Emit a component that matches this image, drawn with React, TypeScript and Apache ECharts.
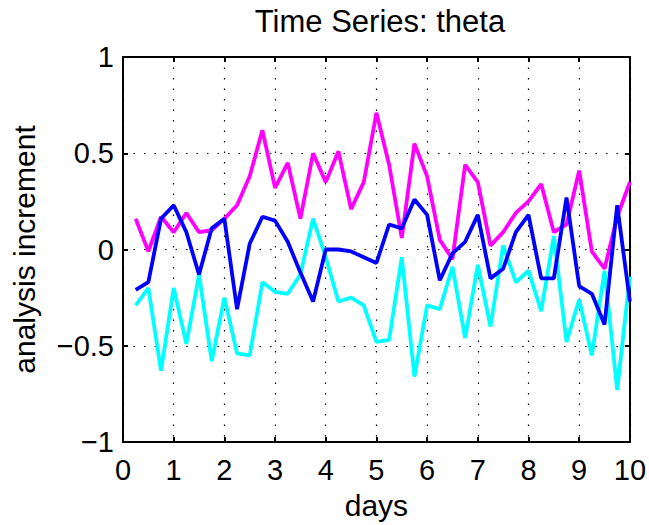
import React, { useEffect, useRef } from "react";
import * as echarts from "echarts";

const days = [
  0.25, 0.5, 0.75, 1, 1.25, 1.5, 1.75, 2, 2.25, 2.5,
  2.75, 3, 3.25, 3.5, 3.75, 4, 4.25, 4.5, 4.75, 5,
  5.25, 5.5, 5.75, 6, 6.25, 6.5, 6.75, 7, 7.25, 7.5,
  7.75, 8, 8.25, 8.5, 8.75, 9, 9.25, 9.5, 9.75, 10,
];

const magentaSeries = [
  0.16, -0.01, 0.17, 0.09, 0.19, 0.09, 0.10, 0.16, 0.23, 0.38,
  0.62, 0.32, 0.45, 0.16, 0.50, 0.35, 0.51, 0.21, 0.35, 0.71,
  0.44, 0.06, 0.55, 0.38, 0.05, -0.05, 0.44, 0.35, 0.02, 0.09,
  0.19, 0.25, 0.34, 0.09, 0.13, 0.41, -0.01, -0.10, 0.17, 0.35,
];

const cyanSeries = [
  -0.29, -0.20, -0.63, -0.20, -0.49, -0.13, -0.58, -0.25, -0.54, -0.55,
  -0.17, -0.22, -0.23, -0.13, 0.16, -0.04, -0.27, -0.25, -0.29, -0.48,
  -0.47, -0.04, -0.66, -0.29, -0.31, -0.09, -0.46, -0.08, -0.40, 0.02,
  -0.17, -0.11, -0.32, 0.07, -0.48, -0.26, -0.55, -0.11, -0.73, -0.14,
];

const blueSeries = [
  -0.21, -0.17, 0.16, 0.23, 0.09, -0.13, 0.11, 0.16, -0.31, 0.03,
  0.17, 0.15, 0.04, -0.12, -0.27, 0.0, 0.0, -0.01, -0.04, -0.07,
  0.13, 0.11, 0.26, 0.18, -0.16, -0.02, 0.04, 0.18, -0.15, -0.10,
  0.09, 0.18, -0.15, -0.15, 0.27, -0.19, -0.23, -0.39, 0.23, -0.27,
];

const xTicks = [0, 1, 2, 3, 4, 5, 6, 7, 8, 9, 10];
const yTickLabels: Record<string, string> = {
  "-1": "\u22121",
  "-0.5": "\u22120.5",
  "0": "0",
  "0.5": "0.5",
  "1": "1",
};

const FONT = "'Liberation Sans', Arial, Helvetica, sans-serif";
const FS = 29;

export default function App() {
  const ref = useRef<HTMLDivElement>(null);

  useEffect(() => {
    if (!ref.current) return;
    const chart = echarts.init(ref.current, null, { renderer: "svg" });
    const pair = (ys: number[]) => days.map((d, i) => [d, ys[i]]);
    const dotted = { color: "#000", type: [1.5, 9] as any, width: 1.2 };
    const axisLine = { show: true, onZero: false, lineStyle: { color: "#000", width: 2 } };
    const tick = { show: true, inside: true, length: 5, lineStyle: { color: "#000", width: 2 } };

    chart.setOption({
      animation: false,
      backgroundColor: "#fff",
      textStyle: { fontFamily: FONT },
      grid: { left: 123, right: 17, top: 57, bottom: 79, containLabel: false },
      graphic: [
        {
          type: "text",
          x: 380,
          y: 21,
          style: {
            text: "Time Series: theta",
            font: `31px ${FONT}`,
            fill: "#000",
            textAlign: "center",
            textVerticalAlign: "middle",
          },
        },
      ],
      xAxis: [
        {
          type: "value",
          min: xTicks[0],
          max: xTicks[xTicks.length - 1],
          interval: 1,
          position: "bottom",
          name: "days",
          nameLocation: "middle",
          nameGap: 48,
          nameTextStyle: { fontSize: 30, color: "#000", fontFamily: FONT },
          axisLine,
          axisTick: tick,
          axisLabel: { color: "#000", fontSize: FS, margin: 13, fontFamily: FONT },
          splitLine: { show: true, lineStyle: dotted },
        },
        {
          type: "value",
          min: xTicks[0],
          max: xTicks[xTicks.length - 1],
          interval: 1,
          position: "top",
          axisLine,
          axisTick: tick,
          axisLabel: { show: false },
          splitLine: { show: false },
        },
      ],
      yAxis: [
        {
          type: "value",
          min: -1,
          max: 1,
          interval: 0.5,
          position: "left",
          name: "analysis increment",
          nameLocation: "middle",
          nameGap: 84,
          nameTextStyle: { fontSize: 30, color: "#000", fontFamily: FONT },
          axisLine,
          axisTick: tick,
          axisLabel: {
            color: "#000",
            fontSize: FS,
            margin: 9,
            fontFamily: FONT,
            formatter: (v: number) => yTickLabels[String(v)] ?? String(v),
          },
          splitLine: { show: true, lineStyle: dotted },
        },
        {
          type: "value",
          min: -1,
          max: 1,
          interval: 0.5,
          position: "right",
          axisLine,
          axisTick: tick,
          axisLabel: { show: false },
          splitLine: { show: false },
        },
      ],
      series: [
        {
          type: "line",
          data: pair(magentaSeries),
          showSymbol: false,
          symbol: "none",
          lineStyle: { color: "#ff00ff", width: 3.8 },
          z: 2,
        },
        {
          type: "line",
          data: pair(cyanSeries),
          showSymbol: false,
          symbol: "none",
          lineStyle: { color: "#00ffff", width: 3.8 },
          z: 3,
        },
        {
          type: "line",
          data: pair(blueSeries),
          showSymbol: false,
          symbol: "none",
          lineStyle: { color: "#0000ff", width: 3.8 },
          z: 4,
        },
      ],
    });
    return () => chart.dispose();
  }, []);

  return (
    <div
      ref={ref}
      style={{ position: "absolute", left: 0, top: 0, width: 649, height: 525 }}
    />
  );
}
